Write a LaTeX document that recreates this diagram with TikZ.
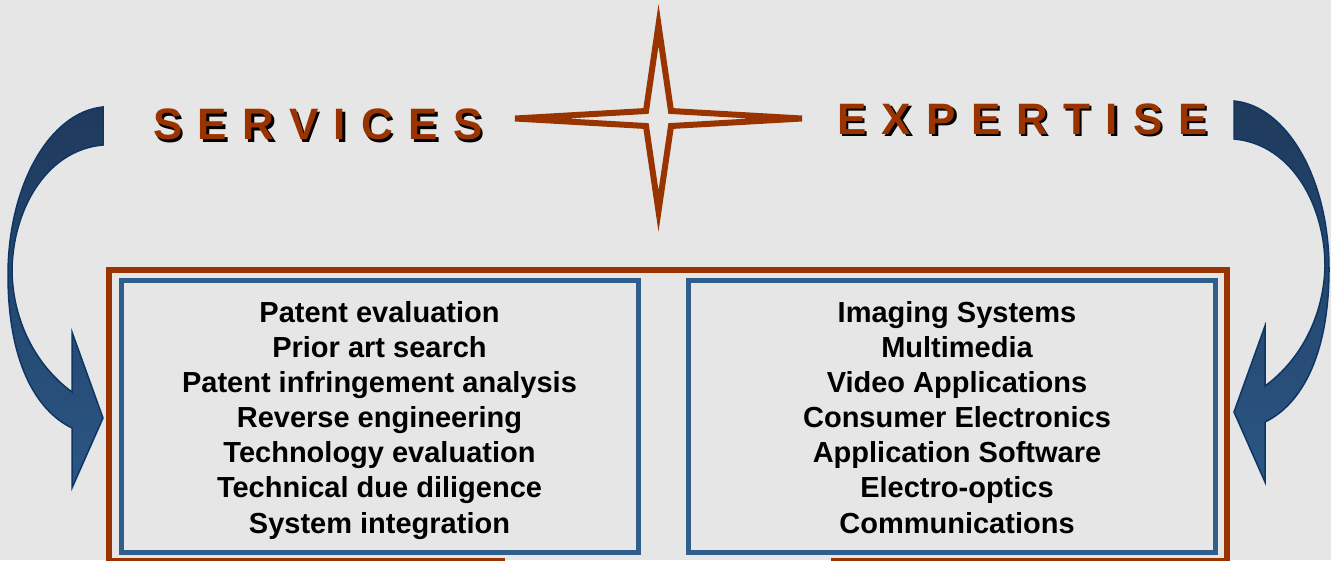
\documentclass[tikz,border=0pt]{standalone}
\usepackage{fontspec}
\setmainfont{Liberation Sans}
\usepackage{tikz}
\usetikzlibrary{calc}

\definecolor{bggray}{RGB}{230,230,230}
\definecolor{rust}{RGB}{153,51,0}
\definecolor{boxblue}{RGB}{48,94,140}
\definecolor{arrowdark}{RGB}{31,58,92}
\definecolor{arrowlight}{RGB}{43,86,132}
\definecolor{arrowline}{RGB}{14,54,100}

\tikzset{
	brownframe/.style={draw=rust, line width=6pt},
	bluebox/.style={draw=boxblue, line width=5pt},
	itemtext/.style={anchor=base, inner sep=0pt, font=\fontsize{29}{35}\selectfont\bfseries},
	titletext/.style={anchor=base west, inner sep=0pt, text=rust,
		font=\fontsize{44}{44}\selectfont\bfseries\addfontfeature{LetterSpace=35}},
	shadowtext/.style={titletext, text=black},
	arrowbody/.style={top color=arrowdark, bottom color=arrowlight, middle color=arrowdark!50!arrowlight,
		draw=arrowline, line width=1.5pt},
	bentarrow/.pic={
		\shade[arrowbody] (103,107) .. controls (50,112) and (8,185) .. (8,275)
			.. controls (8,360) and (35,410) .. (72,428) -- (72,488) -- (103,418)
			-- (72,332) -- (72,392) .. controls (35,365) and (13,320) .. (12,272)
			.. controls (12,212) and (45,150) .. (103,145) -- cycle;
	}
}

\begin{document}
\begin{tikzpicture}[x=1pt, y=-1pt]

	% ---- page

	\useasboundingbox (0,0) rectangle (1331,560);
	\fill[bggray] (0,0) rectangle (1331,560);

	% ---- frames

	\draw[brownframe] (505,561) -- (108.5,561) -- (108.5,270) -- (1227,270) -- (1227,561) -- (831,561);
	\draw[bluebox] (121.5,280.5) rectangle (638,552.5);
	\draw[bluebox] (688,280.5) rectangle (1215.5,552.5);

	% ---- star

	\coordinate (C) at (658.5,118.5);
	\draw[rust, line width=6pt] (658.5,25) -- (671,111) -- (802,118.5) -- (671,126)
		-- (658.5,211) -- (646,126) -- (515,118.5) -- (646,111) -- cycle;

	% ---- titles

	\node[shadowtext] at (155.5,142) {SERVICES};
	\node[titletext] (services) at (153,139.5) {SERVICES};

	\node[shadowtext] at (839.5,136.5) {EXPERTISE};
	\node[titletext] (expertise) at (837,134) {EXPERTISE};

	% ---- arrows

	\pic at (0,0) {bentarrow};
	\pic[xscale=-1] at (1337,-6) {bentarrow};

	% ---- lists

	\foreach \txt [count=\i] in {Patent evaluation, Prior art search,
		Patent infringement analysis, Reverse engineering, Technology evaluation,
		Technical due diligence, System integration} {
		\node[itemtext] (serv\i) at (379.5,{322+35.17*(\i-1)}) {\txt};
	}

	\foreach \txt [count=\i] in {Imaging Systems, Multimedia, Video Applications,
		Consumer Electronics, Application Software, Electro-optics, Communications} {
		\node[itemtext] (expt\i) at (957,{322+35.17*(\i-1)}) {\txt};
	}

\end{tikzpicture}
\end{document}
